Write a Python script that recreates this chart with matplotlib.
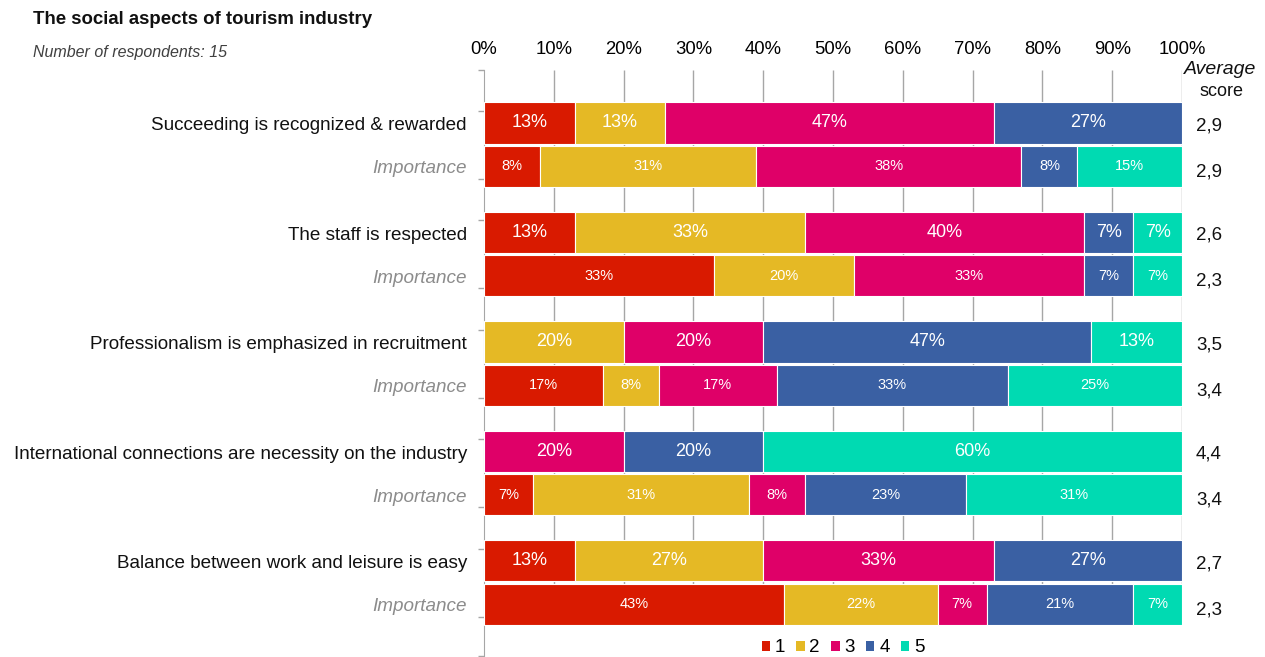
import matplotlib.pyplot as plt
from matplotlib.patches import Patch
from matplotlib import font_manager

# Survey data: share of answers 1..5 for each statement and its importance
statements = [
    'Succeeding is recognized & rewarded',
    'The staff is respected',
    'Professionalism is emphasized in recruitment',
    'International connections are necessity on the industry',
    'Balance between work and leisure is easy',
]
scores = ['1', '2', '3', '4', '5']

agree = [
    [13, 13, 47, 27, 0],
    [13, 33, 40, 7, 7],
    [0, 20, 20, 47, 13],
    [0, 0, 20, 20, 60],
    [13, 27, 33, 27, 0],
]
importance = [
    [8, 31, 38, 8, 15],
    [33, 20, 33, 7, 7],
    [17, 8, 17, 33, 25],
    [7, 31, 8, 23, 31],
    [43, 22, 7, 21, 7],
]
avg_agree = ['2,9', '2,6', '3,5', '4,4', '2,7']
avg_importance = ['2,9', '2,3', '3,4', '3,4', '2,3']

colors = ['#D91A00', '#E5B925', '#DF0068', '#3A60A3', '#00DAB2']

names = {f.name for f in font_manager.fontManager.ttflist}
base = 'Liberation Sans' if 'Liberation Sans' in names else 'DejaVu Sans'
narrow = 'Liberation Sans Narrow' if 'Liberation Sans Narrow' in names else base
plt.rcParams['font.family'] = [base, 'DejaVu Sans']

fig = plt.figure(figsize=(12.65, 6.57), dpi=100)
ax = fig.add_axes([484 / 1265, 1 - 656 / 657, 698 / 1265, 586 / 657])

bar_h = 0.375
imp_off = 0.395
txt_dy = 0.025  # nudge side texts down a little


def draw_row(y, vals, fsize):
    left = 0
    for v, c in zip(vals, colors):
        if v == 0:
            continue
        ax.barh(y, v, left=left, height=bar_h, color=c, edgecolor='white',
                linewidth=0.8, zorder=3)
        ax.text(left + v / 2, y, f'{v}%', ha='center', va='center',
                color='white', fontsize=fsize, family=narrow, zorder=4)
        left += v


for g in range(len(statements)):
    y_main = g
    y_imp = g + imp_off
    draw_row(y_main, agree[g], 13)
    draw_row(y_imp, importance[g], 10.5)
    ax.text(-2.45, y_main + txt_dy, statements[g], ha='right', va='center',
            fontsize=13.6, color='#111111')
    ax.text(-2.45, y_imp + txt_dy, 'Importance', ha='right', va='center',
            fontsize=13.6, color='#8C8C8C', style='italic')
    ax.text(102, y_main + txt_dy, avg_agree[g], ha='left', va='center',
            fontsize=13.5, color='#111111')
    ax.text(102, y_imp + 0.05, avg_importance[g], ha='left', va='center',
            fontsize=13.5, color='#111111')

y_top, y_bot = -0.484, 4.868
ax.set_xlim(0, 100)
ax.set_ylim(y_bot, y_top)

# vertical gridlines stop just below the last bar
ax.vlines(range(10, 101, 10), y_top, 4.566, color='#A6A6A6', linewidth=1, zorder=1)

ax.xaxis.tick_top()
ax.set_xticks(range(0, 101, 10))
ax.set_xticklabels([f'{t}%' for t in range(0, 101, 10)], fontsize=13.3)
ax.tick_params(axis='x', length=0, pad=9)

yt = [y_top, y_bot] + [g - 0.11 for g in range(5)] + [g + 0.51 for g in range(5)]
ax.set_yticks(yt)
ax.set_yticklabels([])
ax.tick_params(axis='y', length=4, color='#A6A6A6', width=1)

for s in ['top', 'right', 'bottom']:
    ax.spines[s].set_visible(False)
ax.spines['left'].set_color('#A6A6A6')

fig.text(1184 / 1265, 1 - 69 / 657, 'Average', ha='left', va='center',
         fontsize=14, style='italic', color='#111111')
fig.text(1221 / 1265, 1 - 91 / 657, 'score', ha='center', va='center',
         fontsize=13, color='#111111')

fig.text(33 / 1265, 1 - 20 / 657, 'The social aspects of tourism industry',
         ha='left', va='center', fontsize=13.4, weight='bold', color='#111111')
fig.text(33 / 1265, 1 - 53 / 657, 'Number of respondents: 15',
         ha='left', va='center', fontsize=11.5, style='italic', color='#404040')

handles = [Patch(facecolor=c, edgecolor='none') for c in colors]
fig.legend(handles, scores, loc='center', bbox_to_anchor=(843 / 1265, 1 - 648 / 657),
           ncol=5, frameon=False, fontsize=13.5, handlelength=0.45, handleheight=0.45,
           handletextpad=0.25, columnspacing=0.6)

fig.savefig('out.png', dpi=100)
